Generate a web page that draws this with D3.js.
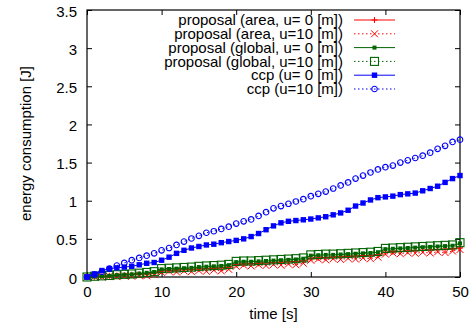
<!DOCTYPE html>
<html>
<head>
<meta charset="utf-8">
<script src="https://cdn.jsdelivr.net/npm/d3@7"></script>
<style>
  body { margin: 0; background: #fff; }
  svg { display: block; }
  text { font-family: "Liberation Sans", Arial, sans-serif; font-size: 15px; fill: #000; }
</style>
</head>
<body>
<svg id="chart"></svg>
<script>
// time axis, one sample per second
const times = d3.range(0, 51);

const xTicks = [0, 10, 20, 30, 40, 50];
const yTicks = [0, 0.5, 1, 1.5, 2, 2.5, 3, 3.5];

const areaU0 = [0, 0.005, 0.01, 0.015, 0.02, 0.025, 0.03, 0.035, 0.04, 0.05,
  0.08, 0.085, 0.09, 0.095, 0.10, 0.105, 0.11, 0.115, 0.12, 0.13,
  0.165, 0.17, 0.175, 0.18, 0.185, 0.19, 0.195, 0.20, 0.205, 0.21,
  0.245, 0.25, 0.255, 0.26, 0.265, 0.27, 0.275, 0.28, 0.285, 0.29,
  0.325, 0.33, 0.335, 0.34, 0.345, 0.35, 0.355, 0.36, 0.365, 0.37, 0.38];

const areaU10 = [0, 0.005, 0.0, 0.01, 0.005, 0.015, 0.01, 0.02, 0.015, 0.03,
  0.06, 0.075, 0.065, 0.08, 0.07, 0.085, 0.075, 0.09, 0.08, 0.10,
  0.14, 0.155, 0.145, 0.16, 0.15, 0.165, 0.155, 0.17, 0.16, 0.18,
  0.22, 0.235, 0.225, 0.24, 0.23, 0.245, 0.235, 0.25, 0.24, 0.26,
  0.30, 0.315, 0.305, 0.32, 0.31, 0.325, 0.315, 0.33, 0.32, 0.34, 0.36];

const globalU0 = [0, 0.005, 0.01, 0.015, 0.025, 0.03, 0.035, 0.045, 0.055, 0.065,
  0.10, 0.105, 0.11, 0.115, 0.12, 0.13, 0.135, 0.14, 0.145, 0.155,
  0.195, 0.20, 0.20, 0.205, 0.21, 0.215, 0.22, 0.225, 0.23, 0.24,
  0.28, 0.285, 0.29, 0.29, 0.295, 0.30, 0.305, 0.31, 0.315, 0.325,
  0.365, 0.37, 0.375, 0.38, 0.385, 0.39, 0.395, 0.40, 0.405, 0.41, 0.44];

const globalU10 = [0, 0.01, 0.015, 0.02, 0.03, 0.035, 0.04, 0.05, 0.06, 0.07,
  0.11, 0.115, 0.12, 0.125, 0.13, 0.14, 0.145, 0.15, 0.155, 0.165,
  0.205, 0.21, 0.21, 0.215, 0.22, 0.225, 0.23, 0.235, 0.24, 0.25,
  0.29, 0.295, 0.30, 0.30, 0.305, 0.31, 0.315, 0.32, 0.325, 0.335,
  0.375, 0.38, 0.385, 0.39, 0.395, 0.40, 0.405, 0.41, 0.415, 0.42, 0.45];

const ccpU0 = [0, 0.04, 0.085, 0.11, 0.12, 0.13, 0.14, 0.16, 0.18, 0.19,
  0.22, 0.26, 0.31, 0.35, 0.38, 0.40, 0.42, 0.43, 0.45, 0.465,
  0.48, 0.50, 0.53, 0.57, 0.62, 0.67, 0.71, 0.73, 0.74, 0.75,
  0.76, 0.775, 0.79, 0.815, 0.84, 0.875, 0.93, 0.97, 1.01, 1.04,
  1.05, 1.06, 1.08, 1.09, 1.10, 1.13, 1.16, 1.19, 1.24, 1.29, 1.33];

const ccpU10 = [0, 0.03, 0.07, 0.11, 0.15, 0.185, 0.22, 0.25, 0.28, 0.31,
  0.35, 0.38, 0.42, 0.465, 0.505, 0.54, 0.58, 0.60, 0.63, 0.66,
  0.70, 0.73, 0.755, 0.80, 0.85, 0.90, 0.93, 0.96, 0.99, 1.02,
  1.06, 1.09, 1.12, 1.16, 1.20, 1.24, 1.29, 1.33, 1.37, 1.41,
  1.44, 1.46, 1.50, 1.53, 1.56, 1.59, 1.63, 1.68, 1.72, 1.77, 1.80];

const seriesNames = [
  "proposal (area, u= 0 [m])",
  "proposal (area, u=10 [m])",
  "proposal (global, u= 0 [m])",
  "proposal (global, u=10 [m])",
  "ccp (u= 0 [m])",
  "ccp (u=10 [m])"
];

const series = [
  {name: seriesNames[0], values: areaU0, color: "#ff0000", dash: null, marker: "plus"},
  {name: seriesNames[1], values: areaU10, color: "#ff0000", dash: "1.5,2.5", marker: "cross"},
  {name: seriesNames[2], values: globalU0, color: "#006400", dash: null, marker: "smallsquare"},
  {name: seriesNames[3], values: globalU10, color: "#006400", dash: "1.5,2.5", marker: "opensquare"},
  {name: seriesNames[4], values: ccpU0, color: "#0000ff", dash: null, marker: "square"},
  {name: seriesNames[5], values: ccpU10, color: "#0000ff", dash: "1.5,2.5", marker: "circle"}
];

const width = 474, height = 328;
const margin = {top: 10, right: 14, bottom: 51, left: 87};

const svg = d3.select("#chart")
    .attr("width", width)
    .attr("height", height);

const x = d3.scaleLinear().domain([0, 50]).range([margin.left, width - margin.right]);
const y = d3.scaleLinear().domain([0, 3.5]).range([height - margin.bottom, margin.top]);

// axes, ticks pointing inward on all four sides
const axisB = svg.append("g")
    .attr("transform", `translate(0,${height - margin.bottom})`)
    .call(d3.axisBottom(x).tickValues(xTicks).tickSize(-5).tickPadding(9));
const axisL = svg.append("g")
    .attr("transform", `translate(${margin.left},0)`)
    .call(d3.axisLeft(y).tickValues(yTicks).tickFormat(d3.format("")).tickSize(-5).tickPadding(10));
const axisT = svg.append("g")
    .attr("transform", `translate(0,${margin.top})`)
    .call(d3.axisTop(x).tickValues(xTicks).tickSize(-5).tickFormat(""));
const axisR = svg.append("g")
    .attr("transform", `translate(${width - margin.right},0)`)
    .call(d3.axisRight(y).tickValues(yTicks).tickSize(-5).tickFormat(""));

[axisB, axisL, axisT, axisR].forEach(a => {
  a.select(".domain").remove();
  a.selectAll("line").attr("stroke", "#000");
  a.selectAll("text").attr("font-size", null).attr("font-family", null).attr("fill", "#000");
});
axisL.selectAll("text").attr("dy", "0.4em");

svg.append("rect")
    .attr("x", margin.left)
    .attr("y", margin.top)
    .attr("width", width - margin.left - margin.right)
    .attr("height", height - margin.top - margin.bottom)
    .attr("fill", "none")
    .attr("stroke", "#000")
    .attr("stroke-width", 1.2);

// axis titles
svg.append("text")
    .attr("x", (margin.left + width - margin.right) / 2)
    .attr("y", 319)
    .attr("text-anchor", "middle")
    .text("time [s]");

svg.append("text")
    .attr("transform", `translate(31,${(margin.top + height - margin.bottom) / 2}) rotate(-90)`)
    .attr("text-anchor", "middle")
    .text("energy consumption [J]");

function drawMarker(g, type, color) {
  if (type === "plus") {
    g.append("path").attr("d", "M-3,0H3M0,-3V3").attr("stroke", color).attr("stroke-width", 1).attr("fill", "none");
  } else if (type === "cross") {
    g.append("path").attr("d", "M-3.5,-3.5L3.5,3.5M-3.5,3.5L3.5,-3.5").attr("stroke", color).attr("stroke-width", 1).attr("fill", "none");
  } else if (type === "smallsquare") {
    g.append("rect").attr("x", -2).attr("y", -2).attr("width", 4).attr("height", 4).attr("fill", color);
  } else if (type === "opensquare") {
    g.append("rect").attr("x", -4).attr("y", -4).attr("width", 8).attr("height", 8)
        .attr("fill", "none").attr("stroke", color).attr("stroke-width", 1.1);
  } else if (type === "square") {
    g.append("rect").attr("x", -2.7).attr("y", -2.7).attr("width", 5.4).attr("height", 5.4).attr("fill", color);
  } else if (type === "circle") {
    g.append("circle").attr("r", 2.8).attr("fill", "none").attr("stroke", color).attr("stroke-width", 1.1);
  }
}

const line = d3.line()
    .x((d, i) => x(times[i]))
    .y(d => y(d));

const plot = svg.append("g");

series.forEach(s => {
  const g = plot.append("g");
  g.append("path")
      .datum(s.values)
      .attr("d", line)
      .attr("fill", "none")
      .attr("stroke", s.color)
      .attr("stroke-width", 1)
      .attr("stroke-dasharray", s.dash);
  g.selectAll("g.pt")
      .data(s.values)
      .join("g")
      .attr("class", "pt")
      .attr("transform", (d, i) => `translate(${x(times[i])},${y(d)})`)
      .each(function() { drawMarker(d3.select(this), s.marker, s.color); });
});

// legend
const legend = svg.append("g");
series.forEach((s, i) => {
  const ly = 20 + i * 13.8;
  legend.append("text")
      .attr("x", 343)
      .attr("y", ly)
      .attr("dy", "0.35em")
      .attr("text-anchor", "end")
      .text(s.name);
  legend.append("line")
      .attr("x1", 354).attr("x2", 395)
      .attr("y1", ly).attr("y2", ly)
      .attr("stroke", s.color)
      .attr("stroke-width", 1)
      .attr("stroke-dasharray", s.dash);
  const m = legend.append("g").attr("transform", `translate(374.5,${ly})`);
  drawMarker(m, s.marker, s.color);
});
</script>
</body>
</html>
